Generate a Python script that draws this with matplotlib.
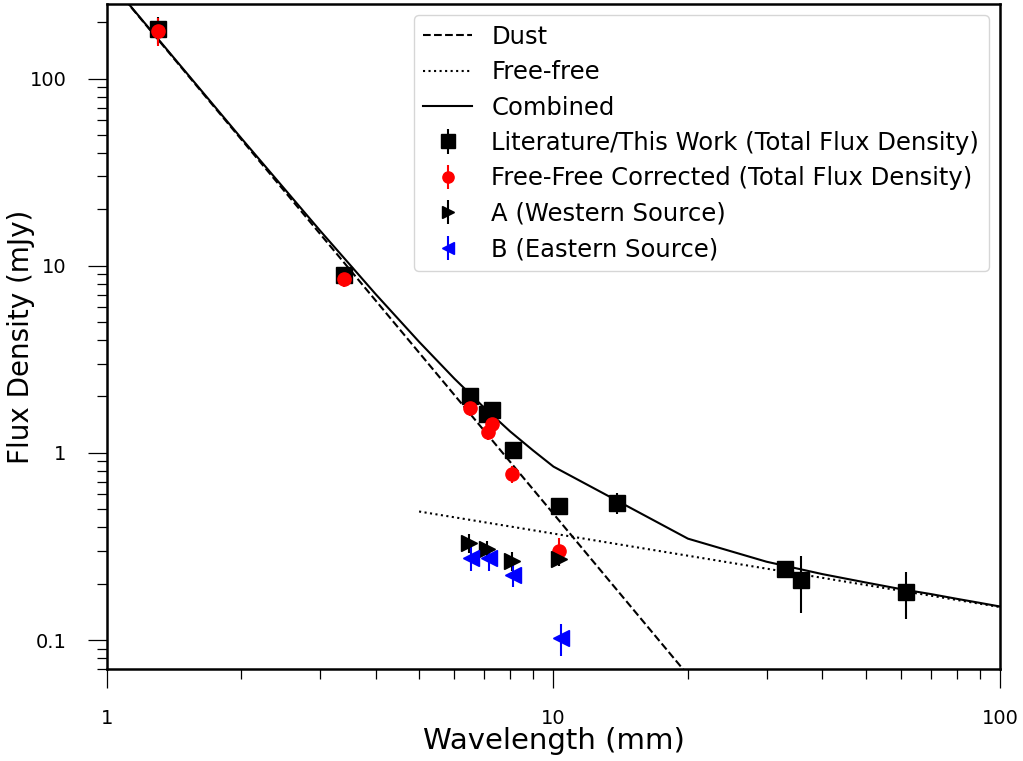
import matplotlib
matplotlib.use('Agg')
import matplotlib.pyplot as plt

# model curves
dust_wl = [1.0, 100.0]
dust_flux = [343.0, 0.00065]

ff_wl = [5.0, 100.0]
ff_flux = [0.486, 0.150]

comb_wl = [1, 2, 3, 4, 5, 6, 7, 8, 9, 10, 20, 30, 40, 50, 60, 70, 80, 90, 100]
comb_flux = [344, 47.9, 15.4, 7.03, 3.92, 2.49, 1.74, 1.30, 1.03, 0.844,
             0.348, 0.262, 0.225, 0.203, 0.187, 0.176, 0.166, 0.158, 0.151]

# total flux density (literature / this work)
lit_wl = [1.3, 3.4, 6.5, 7.1, 7.3, 8.1, 10.3, 13.9, 33.0, 35.8, 61.6]
lit_flux = [183, 8.95, 2.02, 1.62, 1.70, 1.03, 0.52, 0.54, 0.24, 0.21, 0.18]
lit_err = [30, 0.9, 0.2, 0.16, 0.17, 0.1, 0.05, 0.07, 0.024, 0.07, 0.05]

# free-free corrected
ffc_wl = [1.3, 3.4, 6.5, 7.13, 7.28, 8.07, 10.3]
ffc_flux = [180, 8.5, 1.74, 1.30, 1.43, 0.77, 0.30]
ffc_err = [30, 0.8, 0.17, 0.13, 0.14, 0.08, 0.05]

# A (western) and B (eastern) sources
a_wl = [6.47, 7.10, 8.07, 10.29]
a_flux = [0.33, 0.307, 0.264, 0.27]
a_err = [0.04, 0.03, 0.03, 0.02]

b_wl = [6.54, 7.17, 8.12, 10.39]
b_flux = [0.275, 0.275, 0.222, 0.102]
b_err = [0.04, 0.04, 0.03, 0.02]

fig = plt.figure(figsize=(10.23, 7.61), dpi=100)
ax = fig.add_axes([0.1046, 0.1209, 0.8729, 0.8738])

ax.plot(dust_wl, dust_flux, 'k--', lw=1.5, label='Dust')
ax.plot(ff_wl, ff_flux, 'k:', lw=1.5, label='Free-free')
ax.plot(comb_wl, comb_flux, 'k-', lw=1.5, label='Combined')

ax.errorbar(lit_wl, lit_flux, yerr=lit_err, fmt='s', color='k', ms=11.5,
            elinewidth=1.5, label='Literature/This Work (Total Flux Density)')
ax.errorbar(ffc_wl, ffc_flux, yerr=ffc_err, fmt='o', color='red', ms=9.5,
            elinewidth=1.5, label='Free-Free Corrected (Total Flux Density)')
ax.errorbar(a_wl, a_flux, yerr=a_err, fmt='>', color='k', ms=11,
            elinewidth=1.5, label='A (Western Source)')
ax.errorbar(b_wl, b_flux, yerr=b_err, fmt='<', color='blue', ms=11,
            elinewidth=1.5, label='B (Eastern Source)')

ax.set_xscale('log')
ax.set_yscale('log')
ax.set_xlim(1, 100)
ax.set_ylim(0.07, 250)

ax.set_xticks([1, 10, 100])
ax.set_xticklabels(['1', '10', '100'])
ax.set_yticks([0.1, 1, 10, 100])
ax.set_yticklabels(['0.1', '1', '10', '100'])

ax.tick_params(which='major', length=14, width=0.9, pad=15, labelsize=14)
ax.tick_params(which='minor', length=7, width=0.9)
for s in ax.spines.values():
    s.set_linewidth(1.8)

ax.set_xlabel('Wavelength (mm)', fontsize=21, labelpad=-1)
ax.set_ylabel('Flux Density (mJy)', fontsize=20, labelpad=-4)

ax.legend(loc='upper right', fontsize=17.5, borderaxespad=0.45,
          labelspacing=0.47, markerscale=0.85)

plt.savefig('out.png', dpi=100)
